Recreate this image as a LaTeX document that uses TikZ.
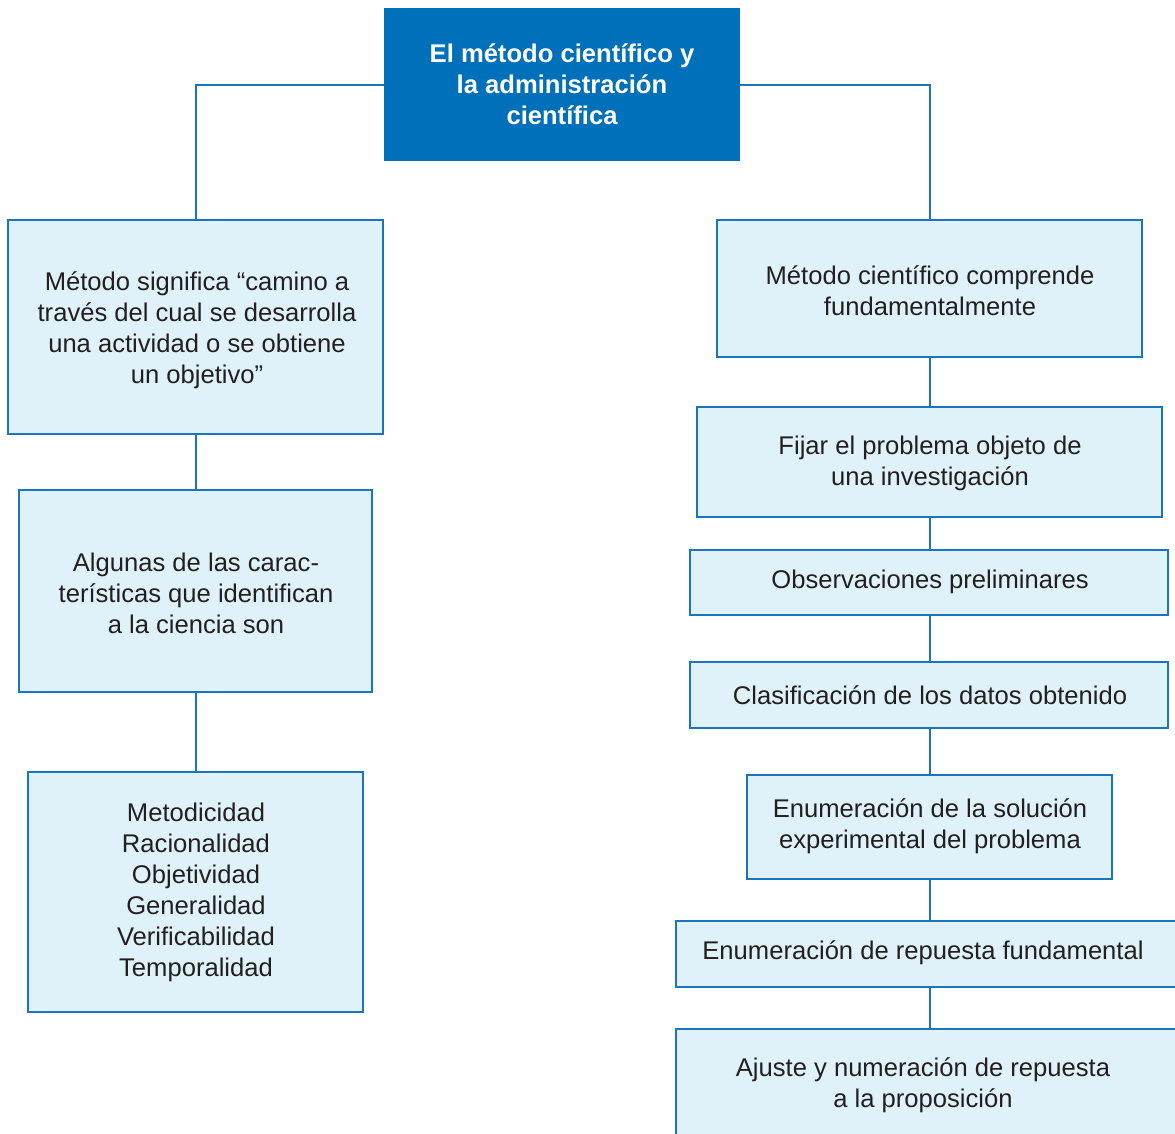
\documentclass[tikz,border=0pt]{standalone}
\usepackage{fontspec}
\setmainfont{Liberation Sans}
\definecolor{topblue}{HTML}{0070BA}
\definecolor{edgeblue}{HTML}{1A75BC}
\definecolor{boxfill}{HTML}{DFF2FA}
\definecolor{txt}{HTML}{231F20}
\newcommand{\boxfont}{\fontsize{25.6}{31}\selectfont}
\tikzset{
  conn/.style={draw=edgeblue, line width=2.2pt},
  infobox/.style={draw=edgeblue, fill=boxfill, line width=2.6pt, align=center,
    text=txt, font=\boxfont, inner sep=0pt},
  plaintext/.style={text=txt, align=center, font=\boxfont, inner sep=0pt},
  titlebox/.style={fill=topblue, align=center, text=white,
    font=\bfseries\boxfont, inner sep=0pt}
}
\begin{document}
\begin{tikzpicture}[x=1pt,y=-1pt]
\useasboundingbox (0,0) rectangle (1175,1133);
\clip (0,0) rectangle (1175,1133);

% connectors (drawn first so boxes cover their ends)
\coordinate (lt) at (196,85);
\coordinate (rt) at (930,85);
\coordinate (lb) at (196,222);
\coordinate (rb) at (930,222);
\coordinate (lmid) at (196,434);
\coordinate (lend) at (196,772);
\coordinate (rmid) at (930,357);
\coordinate (rend) at (930,1029);

% title box
\node[titlebox, minimum width=356, minimum height=153] (top) at (562,84.5)
  {El método científico y\\la administración\\científica};

\draw[conn] (top.west |- lt) -- (lt) -- (lb);
\draw[conn] (top.east |- rt) -- (rt) -- (rb);
\draw[conn] (lmid) -- (lend);
\draw[conn] (rmid) -- (rend);

% left column
\node[infobox, minimum width=375, minimum height=214] (l1) at (195.5,327)
  {};
\node[plaintext] (l1t) at (197,330)
  {Método significa “camino a\\través del cual se desarrolla\\una actividad o se obtiene\\un objetivo”};
\node[infobox, minimum width=353, minimum height=202] (l2) at (195.5,591)
  {};
\node[plaintext] (l2t) at (196,593)
  {Algunas de las carac-\\terísticas que identifican\\a la ciencia son};
\node[infobox, minimum width=335, minimum height=240] (l3) at (195.5,892)
  {};
\node[plaintext] (l3t) at (196,892)
  {Metodicidad\\Racionalidad\\Objetividad\\Generalidad\\Verificabilidad\\Temporalidad};

% right column
\node[infobox, minimum width=425, minimum height=137] (r1) at (929.5,288.5) {};
\node[plaintext] (r1t) at (930,291) {Método científico comprende\\fundamentalmente};
\node[infobox, minimum width=465, minimum height=110] (r2) at (929.5,462) {};
\node[plaintext] (r2t) at (930,463) {Fijar el problema objeto de\\una investigación};
\node[infobox, minimum width=478, minimum height=65] (r3) at (929,582.5) {};
\node[plaintext] (r3t) at (930,582) {Observaciones preliminares};
\node[infobox, minimum width=478, minimum height=66] (r4) at (929,695) {};
\node[plaintext] (r4t) at (930,695) {Clasificación de los datos obtenido};
\node[infobox, minimum width=365, minimum height=104] (r5) at (929.5,827) {};
\node[plaintext] (r5t) at (930,826) {Enumeración de la solución\\experimental del problema};
\node[infobox, minimum width=510, minimum height=66] (r6) at (931,954) {};
\node[plaintext] (r6t) at (923,953) {Enumeración de repuesta fundamental};
\node[infobox, minimum width=510, minimum height=120] (r7) at (931,1089) {};
\node[plaintext] (r7t) at (923,1085) {Ajuste y numeración de repuesta\\a la proposición};
\end{tikzpicture}
\end{document}
